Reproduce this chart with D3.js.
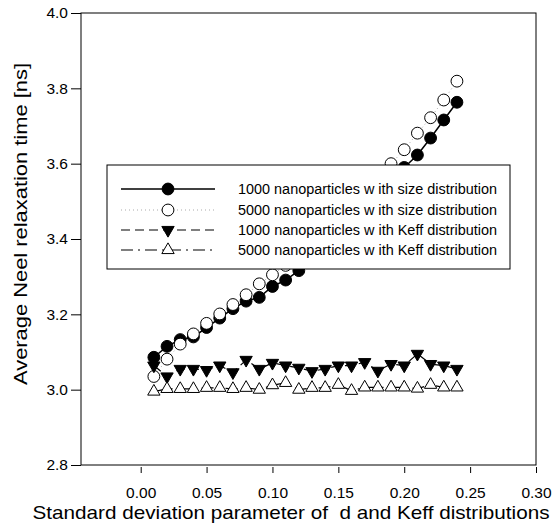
<!DOCTYPE html>
<html>
<head>
<meta charset="utf-8">
<script src="https://cdn.jsdelivr.net/npm/d3@7.9.0/dist/d3.min.js"></script>
<style>
  body { margin: 0; background: #fff; }
  svg { display: block; font-family: Arial, "Liberation Sans", sans-serif; }
</style>
</head>
<body>
<div id="chart"></div>
<script>
// standard deviation parameter (x)
const sigma = [0.01, 0.02, 0.03, 0.04, 0.05, 0.06, 0.07, 0.08, 0.09, 0.10, 0.11, 0.12,
               0.13, 0.14, 0.15, 0.16, 0.17, 0.18, 0.19, 0.20, 0.21, 0.22, 0.23, 0.24];

// average Neel relaxation time [ns]
const size1000 = [3.086, 3.115, 3.133, 3.140, 3.165, 3.190, 3.215, 3.235, 3.245, 3.274, 3.291, 3.316,
                  3.340, 3.370, 3.400, 3.430, 3.470, 3.510, 3.550, 3.590, 3.623, 3.668, 3.716, 3.763];
const size5000 = [3.035, 3.081, 3.121, 3.148, 3.176, 3.201, 3.226, 3.252, 3.281, 3.305, 3.330, 3.360,
                  3.390, 3.420, 3.450, 3.480, 3.520, 3.560, 3.600, 3.637, 3.681, 3.722, 3.769, 3.819];
const keff1000 = [3.064, 3.035, 3.055, 3.055, 3.052, 3.064, 3.046, 3.079, 3.055, 3.071, 3.064, 3.058,
                  3.049, 3.055, 3.064, 3.064, 3.073, 3.050, 3.068, 3.064, 3.095, 3.068, 3.064, 3.055];
const keff5000 = [2.995, 3.002, 3.002, 3.002, 3.005, 3.005, 3.002, 3.005, 3.000, 3.012, 3.018, 3.000,
                  3.005, 3.005, 3.013, 2.997, 3.006, 3.006, 3.006, 3.006, 3.003, 3.013, 3.006, 3.006];

const seriesNames = [
  '1000 nanoparticles w ith size distribution',
  '5000 nanoparticles w ith size distribution',
  '1000 nanoparticles w ith Keff distribution',
  '5000 nanoparticles w ith Keff distribution'
];

const xTicks = [0.00, 0.05, 0.10, 0.15, 0.20, 0.25, 0.30];
const yTicks = [2.8, 3.0, 3.2, 3.4, 3.6, 3.8, 4.0];

const width = 555, height = 528;
const frame = { left: 81, right: 536, top: 13, bottom: 465 };
const font = 'Arial, "Liberation Sans", sans-serif';

const svg = d3.select('#chart').append('svg')
  .attr('width', width)
  .attr('height', height);

const xScale = d3.scaleLinear().domain([-0.0453, 0.30]).range([frame.left, frame.right]);
const yScale = d3.scaleLinear().domain([2.8, 4.0]).range([frame.bottom, frame.top]);

// styles for each series
const styles = [
  { values: size1000, dash: null, stroke: '#000', width: 1.5, shape: d3.symbolCircle, size: 110, fill: '#000', rotate: 0 },
  { values: size5000, dash: '1,3', stroke: '#aaa', width: 1, shape: d3.symbolCircle, size: 110, fill: '#fff', rotate: 0 },
  { values: keff1000, dash: '9,5', stroke: '#000', width: 1.2, shape: d3.symbolTriangle, size: 66, fill: '#000', rotate: 180 },
  { values: keff5000, dash: '12,5,2,5', stroke: '#000', width: 1.2, shape: d3.symbolTriangle, size: 66, fill: '#fff', rotate: 0 }
];

// frame
svg.append('rect')
  .attr('x', frame.left).attr('y', frame.top)
  .attr('width', frame.right - frame.left)
  .attr('height', frame.bottom - frame.top)
  .attr('fill', 'none').attr('stroke', '#000').attr('stroke-width', 1);

// axes
const yAxis = svg.append('g')
  .attr('transform', `translate(${frame.left},0)`)
  .call(d3.axisLeft(yScale).tickValues(yTicks).tickFormat(d3.format('.1f')).tickSize(10).tickPadding(3));
yAxis.select('.domain').remove();
yAxis.selectAll('text').attr('font-size', 15.5).attr('fill', '#000').style('font-family', font);

const xAxis = svg.append('g')
  .attr('transform', `translate(0,${frame.bottom + 2})`)
  .call(d3.axisBottom(xScale).tickValues(xTicks).tickFormat(d3.format('.2f')).tickSize(6).tickPadding(14));
xAxis.select('.domain').remove();
xAxis.selectAll('text').attr('font-size', 15.5).attr('fill', '#000').style('font-family', font);

// axis titles
svg.append('text')
  .attr('transform', 'translate(27,224) rotate(-90)')
  .attr('text-anchor', 'middle')
  .attr('font-size', 19)
  .attr('textLength', 322)
  .attr('lengthAdjust', 'spacingAndGlyphs')
  .text('Average Neel relaxation time [ns]');

svg.append('text')
  .attr('x', 291).attr('y', 519)
  .attr('text-anchor', 'middle')
  .attr('font-size', 19)
  .attr('textLength', 517)
  .attr('lengthAdjust', 'spacingAndGlyphs')
  .style('white-space', 'pre')
  .text('Standard deviation parameter of  d and Keff distributions');

// series
const line = d3.line()
  .x((d, i) => xScale(sigma[i]))
  .y(d => yScale(d));

styles.forEach(s => {
  svg.append('path')
    .datum(s.values)
    .attr('d', line)
    .attr('fill', 'none')
    .attr('stroke', s.stroke)
    .attr('stroke-width', s.width)
    .attr('stroke-dasharray', s.dash);
});

styles.forEach(s => {
  svg.append('g').selectAll('path')
    .data(s.values)
    .join('path')
    .attr('d', d3.symbol().type(s.shape).size(s.size))
    .attr('transform', (d, i) => `translate(${xScale(sigma[i])},${yScale(d)}) rotate(${s.rotate})`)
    .attr('fill', s.fill)
    .attr('stroke', '#000')
    .attr('stroke-width', 1);
});

// legend
const legend = svg.append('g');
legend.append('rect')
  .attr('x', 107).attr('y', 165)
  .attr('width', 403).attr('height', 104)
  .attr('fill', '#fff').attr('stroke', '#000').attr('stroke-width', 1);

const rowY = [189, 210, 230, 250];
styles.forEach((s, i) => {
  const y = rowY[i];
  legend.append('line')
    .attr('x1', 121).attr('x2', 215).attr('y1', y).attr('y2', y)
    .attr('stroke', s.stroke).attr('stroke-width', s.width)
    .attr('stroke-dasharray', s.dash);
  legend.append('path')
    .attr('d', d3.symbol().type(s.shape).size(s.size))
    .attr('transform', `translate(168,${y}) rotate(${s.rotate})`)
    .attr('fill', s.fill).attr('stroke', '#000').attr('stroke-width', 1);
  legend.append('text')
    .attr('x', 238).attr('y', y).attr('dy', '0.35em')
    .attr('font-size', 14)
    .attr('textLength', 259)
    .attr('lengthAdjust', 'spacingAndGlyphs')
    .style('white-space', 'pre')
    .text(seriesNames[i]);
});
</script>
</body>
</html>
